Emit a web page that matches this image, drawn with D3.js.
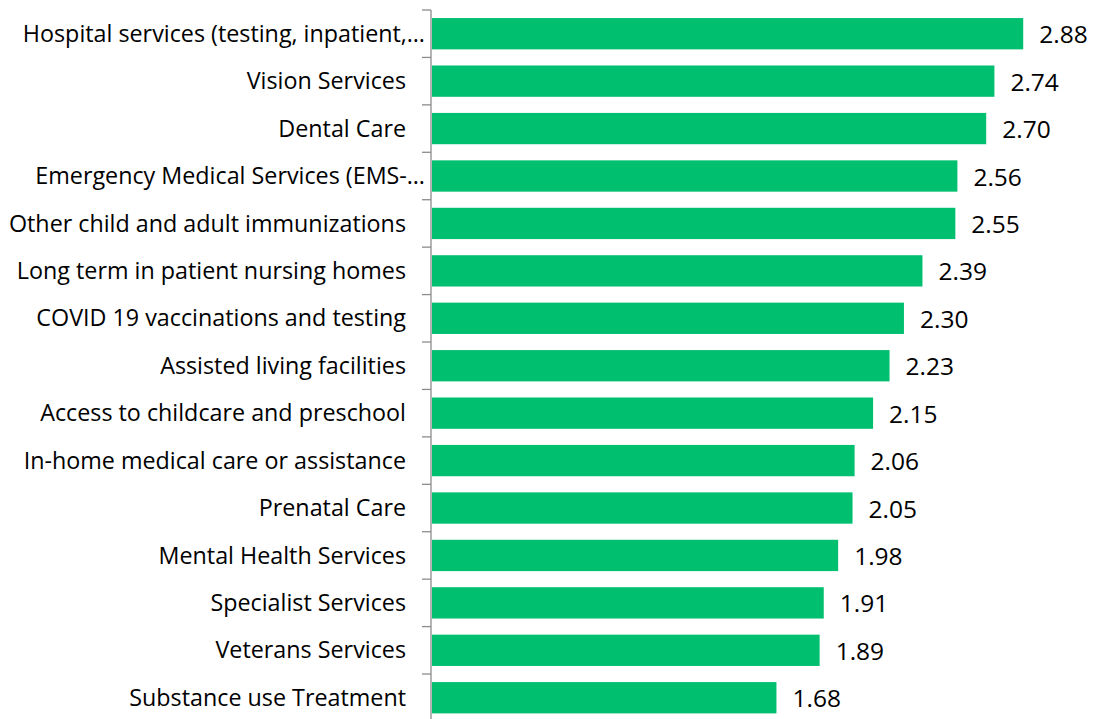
<!DOCTYPE html>
<html><head><meta charset="utf-8">
<script src="https://cdn.jsdelivr.net/npm/d3@7"></script>
<style>body{margin:0;background:#fff}svg{display:block}</style>
</head><body>
<script>
const categories = [
  "Hospital services (testing, inpatient,…",
  "Vision Services",
  "Dental Care",
  "Emergency Medical Services (EMS-…",
  "Other child and adult immunizations",
  "Long term in patient nursing homes",
  "COVID 19 vaccinations and testing",
  "Assisted living facilities",
  "Access to childcare and preschool",
  "In-home medical care or assistance",
  "Prenatal Care",
  "Mental Health Services",
  "Specialist Services",
  "Veterans Services",
  "Substance use Treatment"
];
const values = [2.88, 2.74, 2.70, 2.56, 2.55, 2.39, 2.30, 2.23, 2.15, 2.06, 2.05, 1.98, 1.91, 1.89, 1.68];

const W = 1093, H = 719;
const svg = d3.select("body").append("svg").attr("width", W).attr("height", H);
const x = d3.scaleLinear().domain([0, 3.2]).range([431, 1089]);
const y = d3.scaleBand().domain(categories).range([10, 10 + 15 * 47.43]).paddingInner(0.34).paddingOuter(0.17);
const font = "'Open Sans', sans-serif";

svg.selectAll("rect.bar").data(values).join("rect")
  .attr("class", "bar")
  .attr("x", x(0) + 1)
  .attr("y", (d, i) => y(categories[i]))
  .attr("width", d => x(d) - x(0) - 1)
  .attr("height", y.bandwidth())
  .attr("fill", "#00BF6F");

svg.selectAll("text.val").data(values).join("text")
  .attr("class", "val")
  .attr("x", d => x(d) + 16)
  .attr("y", (d, i) => y(categories[i]) + y.bandwidth() / 2 + 1)
  .attr("dy", "0.35em")
  .attr("font-family", font).attr("font-size", 24.5).attr("fill", "#000")
  .text(d => d.toFixed(2));

// axis line with ticks between categories
const tickYs = d3.range(categories.length).map(i => 10 + i * y.step());
svg.append("line").attr("x1", 431).attr("x2", 431).attr("y1", tickYs[0]).attr("y2", H)
  .attr("stroke", "#8c8c8c").attr("stroke-width", 1.3);
svg.selectAll("line.tick").data(tickYs).join("line")
  .attr("class", "tick")
  .attr("x1", 422).attr("x2", 431).attr("y1", d => d).attr("y2", d => d)
  .attr("stroke", "#8c8c8c").attr("stroke-width", 1.3);

svg.selectAll("text.cat").data(categories).join("text")
  .attr("class", "cat")
  .attr("x", d => d.endsWith("…") ? 425 : 406)
  .attr("y", d => y(d) + y.bandwidth() / 2)
  .attr("dy", "0.35em")
  .attr("text-anchor", "end")
  .attr("font-family", font).attr("font-size", 23.3).attr("fill", "#000")
  .text(d => d);
</script>
</body></html>
